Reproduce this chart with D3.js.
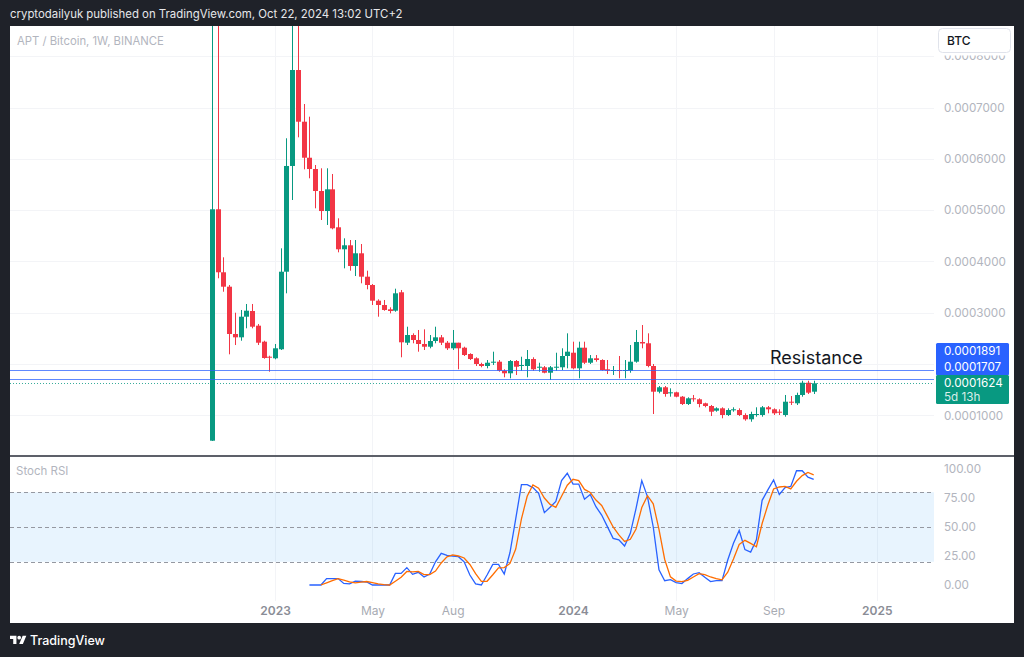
<!DOCTYPE html>
<html><head><meta charset="utf-8">
<script src="https://cdn.jsdelivr.net/npm/d3@7/dist/d3.min.js"></script>
<style>
html,body{margin:0;padding:0;background:#1f2229;}
svg{display:block;font-family:Inter,"Noto Sans",sans-serif;}
</style></head><body>
<svg id="c" width="1024" height="657"></svg>
<script>
// ---------- DATA (prices in units of 0.0001 BTC) ----------
const firstWeek = "2022-10-17";
const lastWeek  = "2024-10-21";
const opens = [0.505,5.016,3.788,3.507,2.585,2.520,2.922,3.033,2.747,2.435,2.142,2.111,2.287,3.799,5.860,7.731,6.723,6.021,5.801,5.372,
4.982,5.405,4.665,4.236,4.314,3.910,4.158,3.702,3.540,3.234,3.150,3.066,3.039,3.398,2.415,2.565,2.468,2.390,2.337,2.448,
2.520,2.415,2.306,2.415,2.318,2.195,2.111,2.000,1.961,2.025,2.045,1.869,1.819,2.058,1.967,1.961,2.097,1.936,1.936,1.830,
1.936,1.936,2.156,2.220,1.916,2.318,2.025,2.111,2.078,1.897,1.869,1.883,1.869,1.869,2.045,2.429,2.404,1.961,1.460,1.546,
1.429,1.448,1.363,1.220,1.331,1.312,1.234,1.181,1.090,1.136,1.006,1.103,1.103,1.006,0.922,1.006,1.006,1.156,1.117,1.070,
1.006,1.265,1.234,1.396,1.635,1.460];
const highs = [10.0,9.8,4.080,3.540,3.000,3.053,3.170,3.170,2.780,2.454,2.162,2.390,4.255,6.400,9.1,9.3,7.068,6.821,5.879,5.815,
5.815,5.704,4.840,4.450,4.417,4.417,4.339,3.819,3.559,3.261,3.248,3.105,3.468,3.443,2.727,2.598,2.663,2.676,2.565,2.727,
2.565,2.448,2.663,2.415,2.337,2.209,2.131,2.025,2.078,2.240,2.078,1.897,2.078,2.078,2.142,2.273,2.131,2.025,1.961,1.961,
2.220,2.306,2.598,2.435,2.435,2.435,2.175,2.175,2.092,2.078,1.961,2.156,2.078,2.370,2.663,2.760,2.598,2.000,1.571,1.571,
1.526,1.460,1.376,1.351,1.396,1.331,1.246,1.201,1.156,1.156,1.136,1.156,1.136,1.039,1.070,1.156,1.181,1.181,1.136,1.117,
1.396,1.376,1.441,1.674,1.674,1.674];
const lows = [0.500,3.671,3.409,2.189,2.370,2.454,2.696,2.696,2.370,2.103,1.850,2.092,2.273,3.378,5.197,6.419,5.795,5.620,5.035,4.807,
4.710,4.626,4.177,3.865,3.819,3.715,3.573,3.456,3.150,2.922,3.039,2.988,3.019,2.131,2.370,2.404,2.240,2.273,2.306,2.404,
2.370,2.273,2.273,1.897,2.156,2.078,1.961,1.936,1.916,1.981,1.850,1.741,1.721,1.786,1.869,1.741,1.869,1.850,1.819,1.688,
1.869,1.883,1.916,1.897,1.721,2.000,2.000,2.045,1.869,1.805,1.786,1.721,1.721,1.830,2.025,2.306,1.936,1.025,1.429,1.363,
1.363,1.351,1.201,1.201,1.265,1.156,1.156,0.986,1.070,0.942,0.986,1.070,0.986,0.895,0.875,0.973,0.973,1.039,1.006,1.006,
0.973,1.201,1.201,1.363,1.415,1.415];
const closes = [5.016,3.788,3.507,2.585,2.520,2.922,3.039,2.727,2.415,2.117,2.123,2.306,3.799,5.860,7.731,6.723,6.021,5.801,5.372,4.982,
5.405,4.645,4.236,4.314,3.910,4.158,3.702,3.540,3.234,3.150,3.053,3.033,3.378,2.423,2.565,2.468,2.390,2.337,2.448,2.520,
2.415,2.306,2.415,2.306,2.175,2.097,2.000,1.961,2.025,2.045,1.869,1.819,2.058,1.947,1.981,2.097,1.897,1.947,1.830,1.936,
1.947,2.156,2.240,1.916,2.318,2.025,2.111,2.078,1.883,1.869,1.883,1.869,1.883,2.045,2.429,2.400,1.961,1.460,1.546,1.415,
1.448,1.363,1.220,1.331,1.312,1.220,1.181,1.070,1.136,1.006,1.103,1.117,1.006,0.922,1.025,1.025,1.156,1.117,1.039,1.051,
1.265,1.246,1.396,1.635,1.441,1.624];

// Stoch RSI (K starts at bar 17, D at bar 19)
const kStart = 17;
const stochK = [0,0,0,5.5,5.5,5.5,1.4,1,3.4,3,2.6,0,0,0,0,10,10,15,9.2,10.9,6.9,9.5,20,27.3,25.5,25,24.4,20,8.6,1,0,8.6,17.8,17.8,9.5,
28,57,86.5,86.5,84,79,62.4,67,72,90,96.3,87,87,74,78,67.5,60.3,50.3,40.2,39,33.6,44.5,66,90,76,50,13,3.7,4.6,2,1.2,5.5,9.5,10.6,
6.6,2.9,3.7,3.7,21.5,36,47,30.5,28.4,39,73,82,90.5,78,84,85,98.5,98.5,93,91];
const dStart = 19;
const stochD = [0,1.8,3.7,5.5,4.1,2.6,1.9,2.4,3,2,0.9,0.3,0,3.3,6.7,11.7,11.4,11.7,9,9,12,19,24.3,25.9,25,23.3,17.7,9.9,3.2,3.2,8.8,
14.7,15,18.6,31,57,76.5,86.3,83.5,75,69.5,67,76.5,86,91.1,90,82.4,79.7,73.2,68.6,59.4,50,43.2,37.6,39.4,48.2,66.8,77,70,48,22,7,
3.4,2.9,4,6.9,9.8,9,6.9,5.5,4.4,11,22.5,35,38.5,35.9,33,53,69,82.8,84.5,85,82.8,89.4,94.3,97.1,95];

const priceTicks = [1,3,4,5,6,7,8];   // 0.0002 is hidden under the price labels
const gridTicks = [1,2,3,4,5,6,7,8];
const resistanceLevels = [1.891, 1.707];
const lastPrice = 1.624;
const countdown = "5d 13h";
const stochTicks = [0,25,50,75,100];
const stochBands = [20,50,80];
const timeTickDates = ["2023-01-02","2023-05-01","2023-08-07","2024-01-01","2024-05-06","2024-09-02","2025-01-06"];
const timeTickLabels = ["2023","May","Aug","2024","May","Sep","2025"];
const yearTicks = ["2023","2024","2025"];

// ---------- LAYOUT ----------
const W=1024,H=657;
const L=10,R=1014,T=26,B=623;
const axisX=934;
const mainTop=26, mainBot=455;
const stTop=457, stBot=601;
const GREEN="#089981", RED="#f23645", BLUE="#2962ff", ORANGE="#ff6d00";

const svg=d3.select("#c");
svg.append("rect").attr("width",W).attr("height",H).attr("fill","#1f2229");
svg.append("rect").attr("x",L).attr("y",T).attr("width",R-L).attr("height",B-T).attr("fill","#fff");

const parse=d3.utcParse("%Y-%m-%d");
const dates=d3.utcMonday.range(parse(firstWeek), d3.utcDay.offset(parse(lastWeek),1));
const tickDates=timeTickDates.map(parse);

const x=d3.scaleUtc().domain([dates[0],dates[dates.length-1]]).range([212,813.7]);
const y=d3.scaleLinear().domain([1,7]).range([415.3,107.5]);
const ys=d3.scaleLinear().domain([0,100]).range([585,469]);

const defs=svg.append("defs");
defs.append("clipPath").attr("id","mainClip").append("rect").attr("x",L).attr("y",mainTop).attr("width",axisX-L).attr("height",mainBot-mainTop);
defs.append("clipPath").attr("id","stClip").append("rect").attr("x",L).attr("y",stTop).attr("width",axisX-L).attr("height",stBot-stTop);

// grid
const grid=svg.append("g");
tickDates.forEach(d=>{
  const gx=Math.round(x(d))+0.5;
  grid.append("line").attr("x1",gx).attr("x2",gx).attr("y1",mainTop).attr("y2",mainBot).attr("stroke","#f3f4f7");
  grid.append("line").attr("x1",gx).attr("x2",gx).attr("y1",stTop).attr("y2",stBot).attr("stroke","#f3f4f7");
});
gridTicks.forEach(v=>{
  const gy=Math.round(y(v))+0.5;
  grid.append("line").attr("x1",L).attr("x2",axisX).attr("y1",gy).attr("y2",gy).attr("stroke","#f3f4f7");
});

// candles
const cg=svg.append("g").attr("clip-path","url(#mainClip)");
const bars=dates.map((d,i)=>({d,o:opens[i],h:highs[i],l:lows[i],c:closes[i]}));
bars.forEach(b=>{
  const cx=Math.round(x(b.d));
  const col=b.c>=b.o?GREEN:RED;
  const top=y(Math.max(b.o,b.c)), bot=y(Math.min(b.o,b.c));
  cg.append("rect").attr("x",cx).attr("width",1).attr("y",y(b.h)).attr("height",Math.max(1,y(b.l)-y(b.h))).attr("fill",col);
  cg.append("rect").attr("x",cx-2).attr("width",5).attr("y",top).attr("height",Math.max(1,bot-top)).attr("fill",col);
});

// resistance lines
resistanceLevels.forEach(v=>{
  const ly=Math.round(y(v))+0.5;
  svg.append("line").attr("x1",L).attr("x2",axisX).attr("y1",ly).attr("y2",ly).attr("stroke",BLUE).attr("stroke-opacity",0.75).attr("stroke-width",1.2);
});
const lpY=Math.round(y(lastPrice))+0.5;
svg.append("line").attr("x1",L).attr("x2",axisX).attr("y1",lpY).attr("y2",lpY).attr("stroke",GREEN).attr("stroke-dasharray","1,2").attr("stroke-opacity",0.8);

svg.append("text").attr("x",770).attr("y",364).attr("font-size",18).attr("fill","#131722").text("Resistance");

// price axis
const pa=svg.append("g").attr("transform",`translate(${axisX+7},0)`)
  .call(d3.axisRight(y).tickValues(priceTicks).tickSize(0).tickPadding(3).tickFormat(d=>(d*1e-4).toFixed(7)));
pa.select(".domain").remove();
pa.selectAll("text").attr("font-size",11.7).attr("fill","#b2b5be").attr("font-family","Inter,sans-serif");

// price labels
const lblX=936, lblW=73;
const gTop=lpY-8.5;
svg.append("rect").attr("x",lblX).attr("y",gTop-32).attr("width",lblW).attr("height",32.5).attr("fill",BLUE).attr("rx",1.5);
svg.append("rect").attr("x",lblX).attr("y",gTop).attr("width",lblW).attr("height",29).attr("fill",GREEN).attr("rx",1.5);
const lt=[[(resistanceLevels[0]*1e-4).toFixed(7),gTop-24],[(resistanceLevels[1]*1e-4).toFixed(7),gTop-8],[(lastPrice*1e-4).toFixed(7),gTop+8],[countdown,gTop+22]];
lt.forEach(([t,cy],i)=>{
  svg.append("text").attr("x",944).attr("y",cy).attr("dy","0.35em").attr("font-size",11.7).attr("fill","#fff").attr("fill-opacity",i===3?0.85:1).text(t);
});

// BTC box (covers the top price label partly, as in the original)
svg.append("rect").attr("x",936).attr("y",26).attr("width",77).attr("height",29.5).attr("fill","#fff");
svg.append("rect").attr("x",938.5).attr("y",28.5).attr("width",72).attr("height",24).attr("rx",4).attr("fill","#fff").attr("stroke","#e0e3eb");
svg.append("text").attr("x",947).attr("y",45).attr("font-size",12).attr("font-weight",500).attr("fill","#131722").text("BTC");

// pane separator
svg.append("rect").attr("x",L).attr("y",mainBot).attr("width",R-L).attr("height",2).attr("fill","#5d6069");

// stoch pane
const sg=svg.append("g");
sg.append("rect").attr("x",L).attr("width",axisX-L).attr("y",ys(80)).attr("height",ys(20)-ys(80)).attr("fill","rgba(33,150,243,0.1)");
stochBands.forEach(v=>{
  const by=Math.round(ys(v))+0.5;
  sg.append("line").attr("x1",L).attr("x2",axisX).attr("y1",by).attr("y2",by).attr("stroke","#9598a1").attr("stroke-dasharray","4,3");
});
const kData=stochK.map((v,i)=>({d:dates[kStart+i],v}));
const dData=stochD.map((v,i)=>({d:dates[dStart+i],v}));
const line=d3.line().x(p=>x(p.d)).y(p=>ys(p.v));
const lg=sg.append("g").attr("clip-path","url(#stClip)");
lg.append("path").datum(kData).attr("d",line).attr("fill","none").attr("stroke",BLUE).attr("stroke-width",1.3);
lg.append("path").datum(dData).attr("d",line).attr("fill","none").attr("stroke",ORANGE).attr("stroke-width",1.3);
sg.append("text").attr("x",16).attr("y",475).attr("font-size",11.5).attr("fill","#b2b5be").text("Stoch RSI");

const sa=svg.append("g").attr("transform",`translate(${axisX+7},0)`)
  .call(d3.axisRight(ys).tickValues(stochTicks).tickSize(0).tickPadding(3).tickFormat(d=>d.toFixed(2)));
sa.select(".domain").remove();
sa.selectAll("text").attr("font-size",11.7).attr("fill","#b2b5be").attr("font-family","Inter,sans-serif");

// time axis
const ta=svg.append("g").attr("transform",`translate(0,${stBot})`)
  .call(d3.axisBottom(x).tickValues(tickDates).tickSize(0).tickPadding(5).tickFormat((d,i)=>timeTickLabels[i]));
ta.select(".domain").remove();
ta.selectAll("text").attr("font-size",12).attr("font-family","Inter,sans-serif")
  .attr("fill",(d,i)=>yearTicks.includes(timeTickLabels[i])?"#8a8d96":"#a8abb3")
  .attr("font-weight",(d,i)=>yearTicks.includes(timeTickLabels[i])?600:400);

// header
svg.append("text").attr("x",10).attr("y",17.5).attr("font-size",11.4).attr("fill","#e6e7ea").text("cryptodailyuk published on TradingView.com, Oct 22, 2024 13:02 UTC+2");
svg.append("text").attr("x",17).attr("y",44.5).attr("font-size",11.3).attr("fill","#b2b5be").text("APT / Bitcoin, 1W, BINANCE");

// footer logo
const logo=svg.append("g").attr("transform","translate(10,634) scale(0.46)").attr("fill","#fff");
logo.append("path").attr("d","M14 22H7V11H0V4h14v18zM28 22h-8l7.5-18h8L28 22z");
logo.append("circle").attr("cx",20).attr("cy",8).attr("r",4);
svg.append("text").attr("x",30).attr("y",645).attr("font-size",12.5).attr("font-weight",500).attr("fill","#fff").text("TradingView");
</script>
</body></html>
